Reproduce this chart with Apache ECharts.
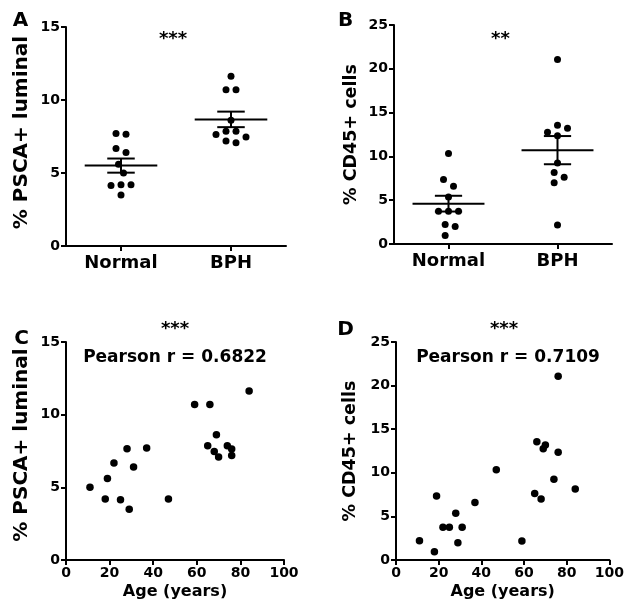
<!DOCTYPE html>
<html>
<head>
<meta charset="utf-8">
<script src="https://cdn.jsdelivr.net/npm/echarts@6/dist/echarts.min.js"></script>
<style>
html,body{margin:0;padding:0;background:#fff;}
#chart{width:627px;height:612px;}
</style>
</head>
<body>
<div id="chart"></div>
<script>
// ---- data ----
const categories = ['Normal', 'BPH'];
const ageNormal = [11, 18, 19, 22, 25, 28, 29, 31, 37, 47];
const ageBPH = [59, 65, 66, 68, 69, 70, 74, 76, 76, 84];
const pscaNormal = [5.0, 4.2, 5.6, 6.67, 4.15, 7.65, 3.5, 6.4, 7.7, 4.2];
const pscaBPH = [10.7, 7.86, 10.7, 7.47, 8.61, 7.08, 7.86, 7.63, 7.19, 11.62];
const cd45Normal = [2.22, 0.96, 7.35, 3.75, 3.75, 5.36, 1.99, 3.75, 6.58, 10.34];
const cd45BPH = [2.18, 7.62, 13.55, 7.0, 12.75, 13.2, 9.26, 21.06, 12.37, 8.15];
const pscaTicks = [0, 5, 10, 15];
const cd45Ticks = [0, 5, 10, 15, 20, 25];
const ageTicks = [0, 20, 40, 60, 80, 100];
const starsA = '***', starsB = '**', starsC = '***', starsD = '***';
const pearsonC = 'Pearson r = 0.6822';
const pearsonD = 'Pearson r = 0.7109';

// ---- layout ----
const FONT = '"DejaVu Sans", "Liberation Sans", Arial, sans-serif';
const G = {
  A: {left: 66, top: 27, width: 220, height: 219},
  B: {left: 394, top: 25, width: 218, height: 219},
  C: {left: 66, top: 342, width: 218, height: 218},
  D: {left: 396, top: 342, width: 218, height: 218}
};

function mean(a) { return a.reduce((s, v) => s + v, 0) / a.length; }
function sem(a) {
  const m = mean(a);
  const v = a.reduce((s, x) => s + (x - m) * (x - m), 0) / (a.length - 1);
  return Math.sqrt(v / a.length);
}

// simple beeswarm layout: horizontal pixel offsets so dots do not overlap
function beeswarm(vals, ppu) {
  const D = 9.5, step = 5;
  const order = vals.map((v, i) => i).sort((a, b) => vals[b] - vals[a]);
  const placed = [];
  const off = new Array(vals.length).fill(0);
  const cands = [0];
  for (let k = 1; k < 12; k++) { cands.push(k * step, -k * step); }
  order.forEach(i => {
    const y = vals[i] * ppu;
    for (const c of cands) {
      if (placed.every(p => Math.hypot(p.x - c, p.y - y) >= D)) {
        off[i] = c; placed.push({i: i, x: c, y: y}); break;
      }
    }
  });
  placed.sort((a, b) => b.y - a.y);
  let cluster = [];
  const flush = () => {
    if (cluster.length > 1) {
      const m = mean(cluster.map(p => off[p.i]));
      cluster.forEach(p => { off[p.i] -= m; });
    }
    cluster = [];
  };
  placed.forEach((p, k) => {
    if (k > 0 && placed[k - 1].y - p.y >= D) flush();
    cluster.push(p);
  });
  flush();
  return off;
}

function dotData(groups, ppu) {
  const out = [];
  groups.forEach((vals, ci) => {
    const off = beeswarm(vals, ppu);
    vals.forEach((v, i) => out.push({value: [ci, v], symbolOffset: [off[i], 0]}));
  });
  return out;
}

function axisCommon() {
  return {
    axisLine: {show: true, onZero: false, lineStyle: {color: '#000', width: 2}},
    axisTick: {show: true, inside: false, length: 5, lineStyle: {color: '#000', width: 2}},
    splitLine: {show: false},
    axisLabel: {color: '#000', fontWeight: 'bold', fontFamily: FONT, fontSize: 14}
  };
}

function yAxis(gi, max, name, nameSize, gap, pad) {
  const a = axisCommon();
  return Object.assign(a, {
    type: 'value', gridIndex: gi, min: 0, max: max, interval: 5,
    name: name, nameLocation: 'middle', nameGap: gap,
    nameTextStyle: {color: '#000', fontWeight: 'bold', fontFamily: FONT, fontSize: nameSize, padding: pad},
    axisLabel: Object.assign(a.axisLabel, {margin: 6})
  });
}

function catAxis(gi) {
  const a = axisCommon();
  a.axisTick.alignWithLabel = true;
  return Object.assign(a, {
    type: 'category', gridIndex: gi, data: categories, boundaryGap: true,
    axisLabel: Object.assign(a.axisLabel, {fontSize: 18, margin: 8})
  });
}

function ageAxis(gi) {
  const a = axisCommon();
  return Object.assign(a, {
    type: 'value', gridIndex: gi, min: ageTicks[0], max: ageTicks[ageTicks.length - 1], interval: 20,
    name: 'Age (years)', nameLocation: 'middle', nameGap: 24,
    nameTextStyle: {color: '#000', fontWeight: 'bold', fontFamily: FONT, fontSize: 16},
    axisLabel: Object.assign(a.axisLabel, {margin: 6})
  });
}

function meanSemSeries(xi, yi, groups) {
  return {
    type: 'custom', xAxisIndex: xi, yAxisIndex: yi, z: 3,
    data: groups.map((g, ci) => [ci, mean(g), sem(g)]),
    renderItem: function (params, api) {
      const ci = api.value(0), m = api.value(1), s = api.value(2);
      const c = api.coord([ci, m]);
      const up = api.coord([ci, m + s]);
      const lo = api.coord([ci, m - s]);
      const bw = api.size([1, 0])[0];
      const hm = bw * 0.33, hs = bw * 0.125;
      const st = {stroke: '#000', lineWidth: 2};
      return {
        type: 'group',
        children: [
          {type: 'line', shape: {x1: c[0] - hm, y1: c[1], x2: c[0] + hm, y2: c[1]}, style: st},
          {type: 'line', shape: {x1: c[0] - hs, y1: up[1], x2: c[0] + hs, y2: up[1]}, style: st},
          {type: 'line', shape: {x1: c[0] - hs, y1: lo[1], x2: c[0] + hs, y2: lo[1]}, style: st},
          {type: 'line', shape: {x1: c[0], y1: up[1], x2: c[0], y2: lo[1]}, style: st}
        ]
      };
    }
  };
}

const dotStyle = {color: '#000', opacity: 1};
const ppuA = G.A.height / pscaTicks[pscaTicks.length - 1];
const ppuB = G.B.height / cd45Ticks[cd45Ticks.length - 1];

function txt(text, x, y, size) {
  return {
    type: 'text', x: x, y: y, silent: true,
    style: {text: text, fill: '#000', font: 'bold ' + size + 'px ' + FONT,
      textAlign: 'center', textVerticalAlign: 'middle', align: 'center', verticalAlign: 'middle'}
  };
}

const option = {
  backgroundColor: '#fff',
  animation: false,
  grid: [G.A, G.B, G.C, G.D].map(g => Object.assign({containLabel: false}, g)),
  xAxis: [catAxis(0), catAxis(1), ageAxis(2), ageAxis(3)],
  yAxis: [
    yAxis(0, 15, '% PSCA+ luminal', 20, 34, [0, 0, 0, 8]),
    yAxis(1, 25, '% CD45+ cells', 17.5, 34, [0, 0, 0, 0]),
    yAxis(2, 15, '% PSCA+ luminal', 20, 34, [0, 0, 0, 12]),
    yAxis(3, 25, '% CD45+ cells', 17.5, 37, [0, 0, 0, 0])
  ],
  series: [
    {type: 'scatter', xAxisIndex: 0, yAxisIndex: 0, symbolSize: 7, itemStyle: dotStyle, z: 4,
      data: dotData([pscaNormal, pscaBPH], ppuA)},
    meanSemSeries(0, 0, [pscaNormal, pscaBPH]),
    {type: 'scatter', xAxisIndex: 1, yAxisIndex: 1, symbolSize: 7, itemStyle: dotStyle, z: 4,
      data: dotData([cd45Normal, cd45BPH], ppuB)},
    meanSemSeries(1, 1, [cd45Normal, cd45BPH]),
    {type: 'scatter', xAxisIndex: 2, yAxisIndex: 2, symbolSize: 7.5, itemStyle: dotStyle,
      data: ageNormal.map((a, i) => [a, pscaNormal[i]]).concat(ageBPH.map((a, i) => [a, pscaBPH[i]]))},
    {type: 'scatter', xAxisIndex: 3, yAxisIndex: 3, symbolSize: 7.5, itemStyle: dotStyle,
      data: ageNormal.map((a, i) => [a, cd45Normal[i]]).concat(ageBPH.map((a, i) => [a, cd45BPH[i]]))}
  ],
  graphic: [
    txt('A', 20.5, 21, 20),
    txt('B', 345.5, 21, 20),
    txt('C', 21.5, 339, 20),
    txt('D', 345.5, 330, 20),
    txt(starsA, 173, 39, 18),
    txt(starsB, 500.5, 39, 18),
    txt(starsC, 175, 329.5, 18),
    txt(starsD, 504, 329.5, 18),
    txt(pearsonC, 175, 358, 17),
    txt(pearsonD, 508, 358, 17)
  ]
};

const chart = echarts.init(document.getElementById('chart'), null, {renderer: 'canvas'});
chart.setOption(option);
</script>
</body>
</html>
